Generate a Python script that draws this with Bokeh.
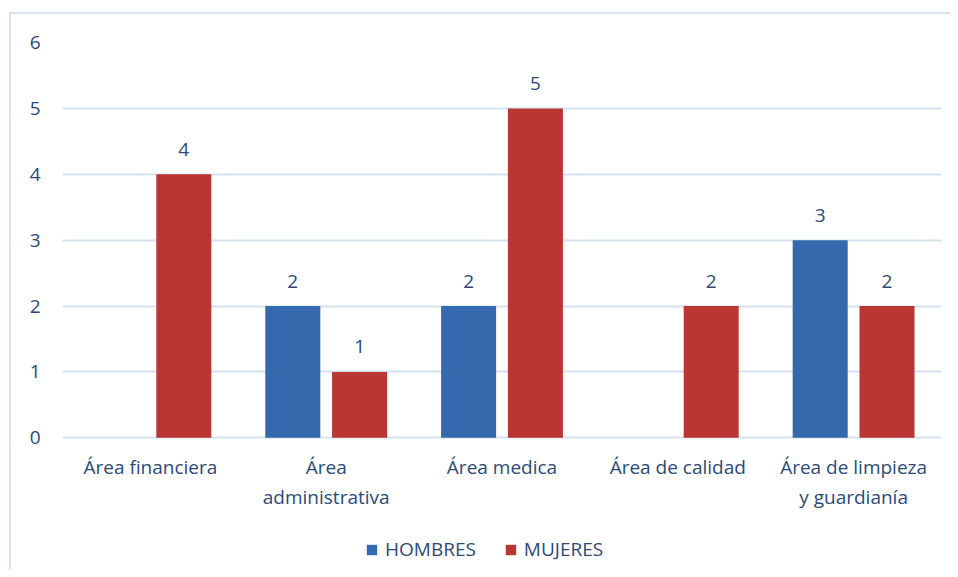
from bokeh.plotting import figure
from bokeh.models import ColumnDataSource, FactorRange, Legend, LegendItem, LabelSet, Range1d, FixedTicker
from bokeh.transform import dodge
from bokeh.core.properties import value
from bokeh.embed import file_html
from bokeh.resources import INLINE

categories = ["Área financiera", "Área\nadministrativa", "Área medica",
              "Área de calidad", "Área de limpieza\ny guardianía"]
hombres = [0, 2, 2, 0, 3]
mujeres = [4, 1, 5, 2, 2]
y_ticks = [0, 1, 2, 3, 4, 5, 6]

TEXT = "#2a4a7b"
GRID = "#d6e1f0"
BLUE = "#3569ad"
RED = "#ba3633"
FONT = "Open Sans"
FS = "19px"

src = ColumnDataSource(dict(cat=categories, h=hombres, m=mujeres))

# y range extends below 0 so the legend area lies inside the frame
p = figure(x_range=FactorRange(factors=categories, range_padding=0),
           y_range=Range1d(-2, 6),
           frame_width=879, frame_height=527, output_backend="svg", toolbar_location=None,
           min_border_left=51, min_border_right=9, min_border_top=28, min_border_bottom=0)
p.outline_line_color = None
p.background_fill_color = "white"
p.border_fill_color = "white"
p.styles = {"margin-left": "9px", "margin-top": "12px",
            "border-left": "2px solid #d8e2f1", "border-top": "2px solid #d8e2f1"}

rh = p.vbar(x=dodge("cat", -0.19, range=p.x_range), top="h", width=0.313, source=src,
            fill_color=BLUE, line_color=None)
rm = p.vbar(x=dodge("cat", 0.19, range=p.x_range), top="m", width=0.313, source=src,
            fill_color=RED, line_color=None)

# value labels (non-zero only)
hc = [c for c, v in zip(categories, hombres) if v != 0]
hv = [v for v in hombres if v != 0]
mc = [c for c, v in zip(categories, mujeres) if v != 0]
mv = [v for v in mujeres if v != 0]
for cats, vals, off in ((hc, hv, -0.19), (mc, mv, 0.19)):
    s = ColumnDataSource(dict(cat=cats, v=vals, t=[str(v) for v in vals]))
    p.add_layout(LabelSet(x=dodge("cat", off, range=p.x_range), y="v", text="t", source=s,
                          text_align="center", text_baseline="middle", y_offset=25,
                          text_font=value(FONT), text_font_size=value(FS), text_color=TEXT))

p.xgrid.grid_line_color = None
p.ygrid.grid_line_color = GRID
p.ygrid.grid_line_width = 2
p.yaxis.ticker = FixedTicker(ticks=y_ticks)

for ax in (p.xaxis, p.yaxis):
    ax.axis_line_color = None
    ax.major_tick_line_color = None
    ax.minor_tick_line_color = None
    ax.major_tick_out = 0
    ax.major_label_text_font = FONT
    ax.major_label_text_font_size = FS
    ax.major_label_text_color = TEXT
p.yaxis.major_label_standoff = 22
p.xaxis.fixed_location = 0
p.xaxis.major_label_standoff = 16
p.xaxis.major_label_text_line_height = 1.16

legend = Legend(items=[LegendItem(label="HOMBRES", renderers=[rh]),
                       LegendItem(label="MUJERES", renderers=[rm])],
                orientation="horizontal", location=(303, 7),
                label_text_font=FONT, label_text_font_size=FS, label_text_color=TEXT,
                glyph_width=13, glyph_height=13, label_standoff=7, spacing=28,
                border_line_color=None, background_fill_alpha=0, padding=0, margin=0)
p.add_layout(legend, "center")

open("out.html", "w").write(file_html(p, INLINE))
